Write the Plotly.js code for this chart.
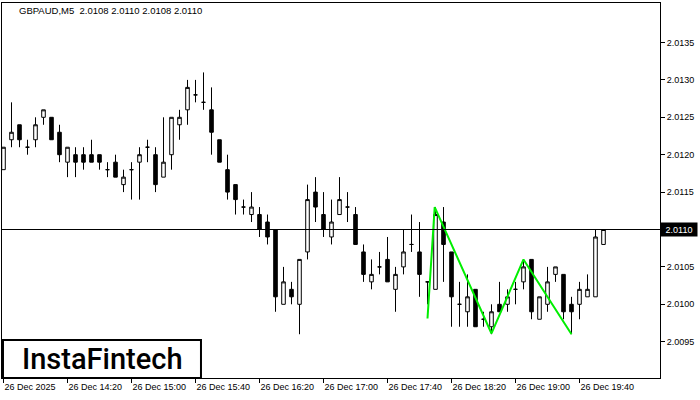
<!DOCTYPE html>
<html>
<head>
<meta charset="utf-8">
<script src="https://cdn.plot.ly/plotly-3.0.1.min.js"></script>
<style>html,body{margin:0;padding:0;background:#fff;}#chart{width:700px;height:400px;}</style>
</head>
<body>
<div id="chart"></div>
<script>
// ---- data (GBPAUD M5, 26 Dec 2025, bars from 13:40 to 19:55) ----
const openP = [2.0118,2.0122,2.0124,2.0121,2.0122,2.0125,2.0125,2.0123,2.0119,2.0120,
2.0120,2.0120,2.0120,2.0118,2.0119,2.0116,2.0118,2.0119,2.0121,2.0120,
2.0117,2.0120,2.0124,2.0126,2.0128,2.0127,2.0126,2.0122,2.0118,2.0116,
2.0113,2.0112,2.0112,2.0111,2.0110,2.0100,2.0102,2.0100,2.0107,2.0115,
2.0112,2.0109,2.0112,2.0113,2.0112,2.0107,2.0103,2.0105,2.0106,2.0102,
2.0105,2.0108,2.0107,2.0103,2.0102,2.0111,2.0107,2.0100,2.0099,2.0102,
2.0098,2.0097,2.0100,2.0100,2.0102,2.0103,2.0106,2.0098,2.0100,2.0104,
2.0104,2.0100,2.0100,2.0101,2.0101,2.0108];
const highP = [2.0121,2.0127,2.0124,2.0122,2.0125,2.0126,2.0125,2.0124,2.0121,2.0121,
2.0121,2.0122,2.0120,2.0119,2.0120,2.0118,2.0119,2.0121,2.0122,2.0121,
2.0125,2.0125,2.0126,2.0130,2.0130,2.0131,2.0129,2.0122,2.0120,2.0116,
2.0114,2.0115,2.0113,2.0112,2.0110,2.0105,2.0103,2.0106,2.0116,2.0117,
2.0115,2.0114,2.0117,2.0115,2.0113,2.0108,2.0106,2.0107,2.0109,2.0105,
2.0110,2.0112,2.0111,2.0103,2.0113,2.0113,2.0107,2.0103,2.0104,2.0102,
2.0099,2.0100,2.0103,2.0102,2.0103,2.0106,2.0106,2.0101,2.0105,2.0105,
2.0104,2.0101,2.0103,2.0104,2.0110,2.0110];
const lowP = [2.0118,2.0121,2.0121,2.0120,2.0121,2.0124,2.0122,2.0119,2.0117,2.0117,
2.0118,2.0119,2.0118,2.0117,2.0117,2.0115,2.0114,2.0114,2.0119,2.0115,
2.0117,2.0118,2.0122,2.0124,2.0127,2.0126,2.0120,2.0119,2.0114,2.0112,
2.0112,2.0111,2.0109,2.0108,2.0099,2.0100,2.0100,2.0096,2.0106,2.0111,
2.0109,2.0108,2.0112,2.0111,2.0108,2.0103,2.0102,2.0104,2.0103,2.0099,
2.0104,2.0107,2.0101,2.0100,2.0102,2.0103,2.0097,2.0097,2.0097,2.0097,
2.0097,2.0096,2.0099,2.0099,2.0100,2.0102,2.0098,2.0098,2.0099,2.0103,
2.0098,2.0096,2.0098,2.0101,2.0101,2.0108];
const closeP = [2.0121,2.0123,2.0122,2.0121,2.0124,2.0126,2.0122,2.0120,2.0121,2.0119,
2.0119,2.0119,2.0119,2.0118,2.0117,2.0117,2.0118,2.0120,2.0121,2.0116,
2.0119,2.0125,2.0125,2.0129,2.0128,2.0127,2.0123,2.0119,2.0115,2.0114,
2.0113,2.0113,2.0110,2.0109,2.0101,2.0103,2.0101,2.0106,2.0114,2.0113,
2.0110,2.0111,2.0114,2.0113,2.0108,2.0104,2.0104,2.0105,2.0103,2.0104,
2.0107,2.0108,2.0104,2.0103,2.0112,2.0108,2.0101,2.0100,2.0101,2.0097,
2.0098,2.0099,2.0099,2.0101,2.0102,2.0105,2.0099,2.0101,2.0103,2.0105,
2.0099,2.0099,2.0102,2.0102,2.0109,2.0110];

// pattern outline (bar index, price)
const patternX = [53, 53.9, 61, 65, 71];
const patternY = [2.00981, 2.01130, 2.00961, 2.01060, 2.00960];

const tickIdx = [0, 8, 16, 24, 32, 40, 48, 56, 64, 72];
const tickLabels = ["26 Dec 2025","26 Dec 14:20","26 Dec 15:00","26 Dec 15:40","26 Dec 16:20",
                    "26 Dec 17:00","26 Dec 17:40","26 Dec 18:20","26 Dec 19:00","26 Dec 19:40"];
const yTicks = [2.0095,2.0100,2.0105,2.0110,2.0115,2.0120,2.0125,2.0130,2.0135];
const currentPrice = 2.0110;
const titleText = "GBPAUD,M5  2.0108 2.0110 2.0108 2.0110";
const logoText = "InstaFintech";

// bar index axis
const barIdx = openP.map((_, i) => i);

const FONT = "Liberation Sans, Arial, sans-serif";

const traces = [
  {
    type: "candlestick",
    x: barIdx, open: openP, high: highP, low: lowP, close: closeP,
    increasing: {line: {color: "#000", width: 1}, fillcolor: "#ffffff"},
    decreasing: {line: {color: "#000", width: 1}, fillcolor: "#000000"},
    whiskerwidth: 0,
    hoverinfo: "skip", showlegend: false
  },
  {
    type: "scatter", mode: "lines",
    x: patternX, y: patternY,
    line: {color: "#00ee00", width: 2},
    hoverinfo: "skip", showlegend: false
  }
];

const layout = {
  width: 700, height: 400,
  margin: {l: 2, r: 40, t: 3, b: 22, pad: 0},
  paper_bgcolor: "#ffffff", plot_bgcolor: "#ffffff",
  showlegend: false,
  boxgap: 0.36,
  font: {family: FONT, size: 9, color: "#000"},
  xaxis: {
    type: "linear",
    range: [-0.1875, 82.0625],
    rangeslider: {visible: false},
    showgrid: false, zeroline: false,
    showline: true, mirror: true, linecolor: "#000", linewidth: 1,
    ticks: "outside", ticklen: 4, tickcolor: "#000", tickwidth: 1,
    tickvals: tickIdx, ticktext: tickLabels,
    ticklabelposition: "outside right",
    tickfont: {family: FONT, size: 9, color: "#000"},
    fixedrange: true
  },
  yaxis: {
    side: "right",
    range: [2.0090147, 2.0140281],
    showgrid: false, zeroline: false,
    showline: true, mirror: true, linecolor: "#000", linewidth: 1,
    ticks: "outside", ticklen: 4, tickcolor: "#000", tickwidth: 1,
    tickvals: yTicks, ticktext: yTicks.map(v => v.toFixed(4)),
    tickfont: {family: FONT, size: 9, color: "#000"},
    fixedrange: true
  },
  shapes: [
    {type: "line", xref: "paper", yref: "y", x0: 0, x1: 1, y0: currentPrice, y1: currentPrice,
     line: {color: "#000", width: 1}, layer: "above"},
    {type: "rect", xref: "paper", yref: "paper", x0: 0.0015, x1: 0.3024, y0: 0.0, y1: 0.1013,
     fillcolor: "#ffffff", line: {color: "#000", width: 2}, layer: "above"}
  ],
  annotations: [
    {xref: "paper", yref: "paper", x: 0.0228, y: 0.9787, xanchor: "left", yanchor: "middle",
     text: titleText, showarrow: false, font: {family: FONT, size: 9.5, color: "#000"}},
    {xref: "paper", yref: "y", x: 1, y: currentPrice, xanchor: "left", yanchor: "middle",
     text: currentPrice.toFixed(4), showarrow: false, bgcolor: "#000", borderpad: 1,
     width: 34, height: 11, align: "center",
     font: {family: FONT, size: 9, color: "#fff"}},
    {xref: "paper", yref: "paper", x: 0.152, y: 0.0507, xanchor: "center", yanchor: "middle",
     text: logoText, showarrow: false,
     font: {family: "Roboto, sans-serif", size: 29, weight: 500, color: "#000"}}
  ]
};

Plotly.newPlot("chart", traces, layout, {staticPlot: true, displayModeBar: false});
</script>
</body>
</html>
